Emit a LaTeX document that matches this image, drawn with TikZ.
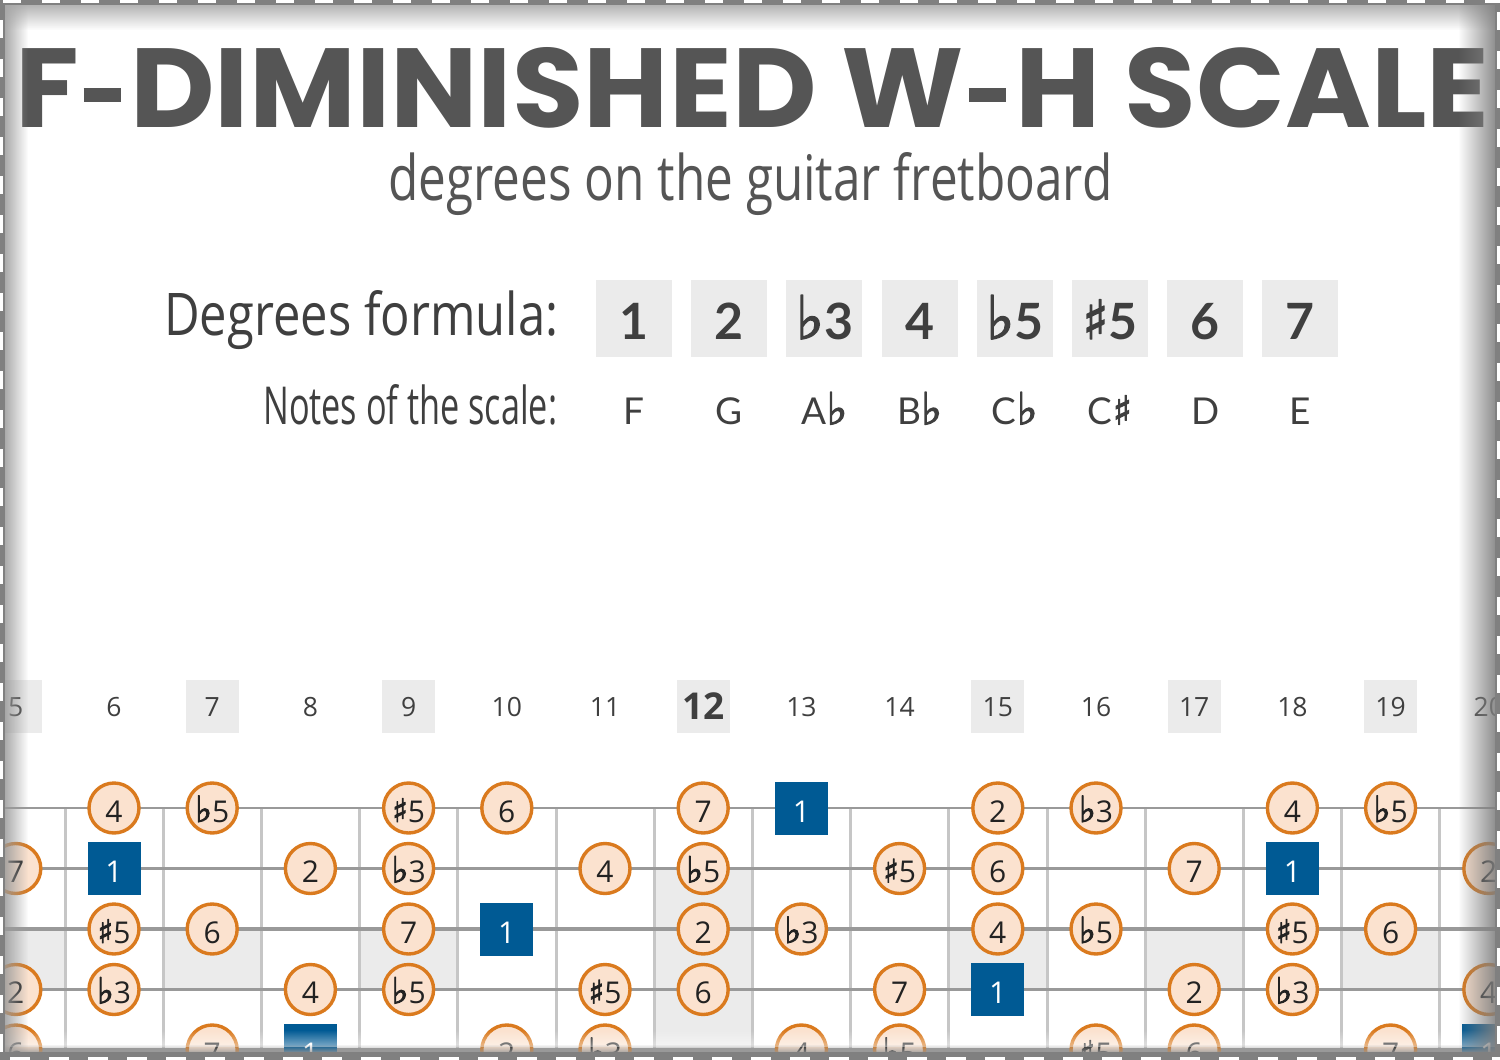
\documentclass[tikz,border=0pt]{standalone}
\usepackage{fontspec}
\setmainfont{Open Sans}
\newfontfamily\titlefont{Poppins}
\newfontfamily\cfont{Open Sans}
\newfontfamily\lfont{Lato}
\newfontfamily\accfont{DejaVu Sans}[FakeBold=2.5]
\usetikzlibrary{fadings}
\definecolor{titlegray}{HTML}{555555}
\definecolor{txtdark}{HTML}{3F3F3F}
\definecolor{boxgray}{HTML}{EBEBEB}
\definecolor{strcol}{HTML}{999999}
\definecolor{fretcol}{HTML}{C6C6C6}
\definecolor{ringcol}{HTML}{DA7A1E}
\definecolor{peach}{HTML}{FBE2CF}
\definecolor{rootblue}{HTML}{005A94}
\definecolor{notetext}{HTML}{222222}
\tikzfading[name=fadeleft, left color=transparent!0, right color=transparent!100]
\tikzfading[name=faderight, left color=transparent!100, right color=transparent!0]
\tikzfading[name=fadetop, top color=transparent!0, bottom color=transparent!100]
\tikzfading[name=fadebottom, top color=transparent!100, bottom color=transparent!0]
\newcommand{\flt}{{\accfont\scalebox{1.2}{♭}}}
\newcommand{\shp}{{\accfont\scalebox{1.08}{♯}}}
\newcommand{\thyph}{\hspace{0.04em}\rule[0.22em]{0.32em}{0.13em}\hspace{0.08em}}
\newcommand{\dg}[3]{\node[degcirc] (d-#1-#2) at ({114+(#1-6)*98.2},{808+(#2-1)*60.5}) {#3};}
\newcommand{\rt}[2]{\node[rootsq] (r-#1-#2) at ({114+(#1-6)*98.2},{808+(#2-1)*60.5}) {1};}
\begin{document}
\begin{tikzpicture}[x=1pt,y=-1pt,
  degcirc/.style={circle, draw=ringcol, line width=3.4pt, fill=peach, minimum size=50pt, inner sep=0pt,
    text=notetext, font=\fontsize{30}{30}\selectfont, text height=28pt, text depth=0pt},
  rootsq/.style={rectangle, fill=rootblue, minimum size=53pt, inner sep=0pt,
    text=white, font=\fontsize{30}{30}\selectfont, text height=28pt, text depth=0pt},
  fretbox/.style={rectangle, fill=boxgray, minimum size=53pt, inner sep=0pt,
    text=txtdark, font=\fontsize{26.5}{26.5}\selectfont, text height=20pt, text depth=0pt},
  fretnum/.style={fretbox, fill=none},
  degbox/.style={rectangle, fill=boxgray, minimum width=76pt, minimum height=77pt, inner sep=0pt,
    text=txtdark, font=\lfont\bfseries\fontsize{50}{50}\selectfont, text height=42pt, text depth=0pt},
  notename/.style={inner sep=0pt, text=txtdark, font=\lfont\fontsize{37}{37}\selectfont,
    text height=27pt, text depth=0pt}
]
\useasboundingbox (0,0) rectangle (1500,1060);
\clip (0,0) rectangle (1500,1060);
\fill[white] (0,0) rectangle (1500,1060);

% titles
\node[anchor=base west, inner sep=0pt, text=titlegray, text depth=0pt] (title) at (15,127)
  {\resizebox{1473pt}{80pt}{\titlefont\bfseries F\thyph DIMINISHED W\thyph H SCALE}};
\node[anchor=base west, inner sep=0pt, text=titlegray] (subtitle) at (388,200)
  {\resizebox{724pt}{48pt}{\cfont degrees on the guitar fretboard}};
\node[anchor=base west, inner sep=0pt, text=txtdark] (dflabel) at (164,335)
  {\resizebox{394pt}{45pt}{\cfont Degrees formula:}};
\node[anchor=base west, inner sep=0pt, text=txtdark] (nslabel) at (263,424)
  {\resizebox{294pt}{40pt}{\cfont Notes of the scale:}};

% degree boxes
\node[degbox] (b1) at (634,318) {1};
\node[degbox] (b2) at (729.2,318) {2};
\node[degbox] (b3) at (824.4,318) {\flt3};
\node[degbox] (b4) at (919.6,318) {4};
\node[degbox] (b5) at (1014.8,318) {\flt5};
\node[degbox] (b6) at (1110,318) {\shp5};
\node[degbox] (b7) at (1205.2,318) {6};
\node[degbox] (b8) at (1300.4,318) {7};
% note names
\node[notename] (n1) at (634,411) {F};
\node[notename] (n2) at (729.2,411) {G};
\node[notename] (n3) at (824.4,411) {A\flt};
\node[notename] (n4) at (919.6,411) {B\flt};
\node[notename] (n5) at (1014.8,411) {C\flt};
\node[notename] (n6) at (1110,411) {C\shp};
\node[notename] (n7) at (1205.2,411) {D};
\node[notename] (n8) at (1300.4,411) {E};

% fret numbers
\foreach \f in {5,7,9,15,17,19} \node[fretbox] (fn\f) at ({114+(\f-6)*98.2},706) {\f};
\foreach \f in {6,8,10,11,13,14,16,18,20} \node[fretnum] (fn\f) at ({114+(\f-6)*98.2},706) {\f};
\node[fretbox, font=\bfseries\fontsize{37}{37}\selectfont, text height=27pt] (fn12) at (703.2,706) {12};

% inlay shading
\foreach \f in {5,7,9,15,17,19}
  \fill[boxgray] ({65+(\f-6)*98.2},929) rectangle ({65+(\f-5)*98.2},990);
\fill[boxgray] ({65+6*98.2},869) rectangle ({65+7*98.2},1060);

% fret wires
\foreach \k in {0,...,14}
  \draw[fretcol, line width=3pt] ({65+\k*98.2},808) -- ({65+\k*98.2},1062);
% strings
\draw[strcol, line width=2.6pt] (-2,808) -- (1502,808);
\draw[strcol, line width=3pt] (-2,868.5) -- (1502,868.5);
\draw[strcol, line width=3.2pt] (-2,929) -- (1502,929);
\draw[strcol, line width=3.6pt] (-2,989.5) -- (1502,989.5);
\draw[strcol, line width=4pt] (-2,1050) -- (1502,1050);

% string 1
\dg{6}{1}{4}\dg{7}{1}{\flt5}\dg{9}{1}{\shp5}\dg{10}{1}{6}\dg{12}{1}{7}\rt{13}{1}
\dg{15}{1}{2}\dg{16}{1}{\flt3}\dg{18}{1}{4}\dg{19}{1}{\flt5}
% string 2
\dg{5}{2}{7}\rt{6}{2}\dg{8}{2}{2}\dg{9}{2}{\flt3}\dg{11}{2}{4}\dg{12}{2}{\flt5}
\dg{14}{2}{\shp5}\dg{15}{2}{6}\dg{17}{2}{7}\rt{18}{2}\dg{20}{2}{2}
% string 3
\dg{6}{3}{\shp5}\dg{7}{3}{6}\dg{9}{3}{7}\rt{10}{3}\dg{12}{3}{2}\dg{13}{3}{\flt3}
\dg{15}{3}{4}\dg{16}{3}{\flt5}\dg{18}{3}{\shp5}\dg{19}{3}{6}
% string 4
\dg{5}{4}{2}\dg{6}{4}{\flt3}\dg{8}{4}{4}\dg{9}{4}{\flt5}\dg{11}{4}{\shp5}\dg{12}{4}{6}
\dg{14}{4}{7}\rt{15}{4}\dg{17}{4}{2}\dg{18}{4}{\flt3}\dg{20}{4}{4}
% string 5
\dg{5}{5}{6}\dg{7}{5}{7}\rt{8}{5}\dg{10}{5}{2}\dg{11}{5}{\flt3}\dg{13}{5}{4}
\dg{14}{5}{\flt5}\dg{16}{5}{\shp5}\dg{17}{5}{6}\dg{19}{5}{7}\rt{20}{5}

% edge fades and shadows
\fill[white, fill opacity=0.5, path fading=fadebottom] (0,1030) rectangle (1500,1047);
\fill[black!40, path fading=fadebottom] (0,1044) rectangle (1500,1054);
\fill[black!40, path fading=fadeleft] (0,0) rectangle (28,1060);
\fill[black!35, path fading=fadetop] (0,0) rectangle (1500,30);
\fill[black!50, path fading=faderight] (1458,0) rectangle (1500,1060);

% perforated border
\draw[black!50, line width=6pt] (0,2) -- (1500,2);
\draw[black!50, line width=6pt] (2,0) -- (2,1060);
\draw[black!50, line width=6pt] (1498,0) -- (1498,1060);
\draw[black!50, line width=8pt] (0,1056) -- (1500,1056);
\draw[white, line width=3.5pt, dash pattern=on 18pt off 21pt] (3,1.5) -- (1500,1.5);
\draw[white, line width=3.5pt, dash pattern=on 18pt off 21pt] (1.5,20) -- (1.5,1060);
\draw[white, line width=3.5pt, dash pattern=on 18pt off 21pt] (1498.5,12) -- (1498.5,1060);
\draw[white, line width=4pt, dash pattern=on 20pt off 19pt] (10,1058.5) -- (1500,1058.5);
\end{tikzpicture}
\end{document}
